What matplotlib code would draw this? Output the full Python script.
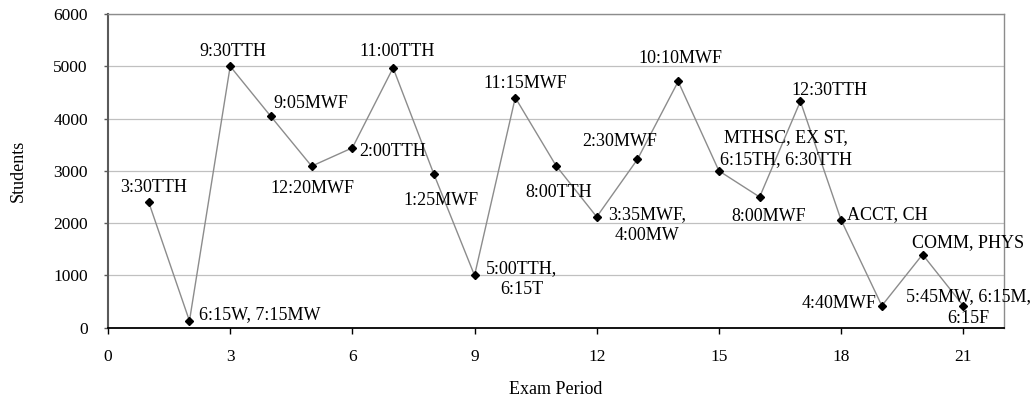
import matplotlib
matplotlib.use("Agg")
import matplotlib.pyplot as plt

# Exam periods and enrolled students per period
periods = list(range(1, 22))
students = [2400, 130, 5000, 4040, 3090, 3440, 4970, 2940, 1000, 4400,
            3100, 2120, 3220, 4710, 3000, 2500, 4330, 2060, 420, 1400, 420]
labels = ["3:30TTH", "6:15W, 7:15MW", "9:30TTH", "9:05MWF", "12:20MWF",
          "2:00TTH", "11:00TTH", "1:25MWF", "5:00TTH,\n6:15T", "11:15MWF",
          "8:00TTH", "3:35MWF,\n4:00MW", "2:30MWF", "10:10MWF",
          "MTHSC, EX ST,\n6:15TH, 6:30TTH", "8:00MWF", "12:30TTH",
          "ACCT, CH", "4:40MWF", "COMM, PHYS", "5:45MW, 6:15M,\n6:15F"]
x_ticks = [0, 3, 6, 9, 12, 15, 18, 21]
y_ticks = [0, 1000, 2000, 3000, 4000, 5000, 6000]

# label placement: (dx px, dy px, horizontal align, vertical align)
placement = [
    (5, 10, "center", "baseline"),
    (10, 1.5, "left", "baseline"),
    (3, 10.7, "center", "baseline"),
    (2, 8, "left", "baseline"),
    (1, -27.3, "center", "baseline"),
    (7, -8, "left", "baseline"),
    (4, 11.7, "center", "baseline"),
    (7, -30.8, "center", "baseline"),
    (47, -3.5, "center", "center"),
    (10, 10, "center", "baseline"),
    (2.5, -31.3, "center", "baseline"),
    (50, -8.3, "center", "center"),
    (-18, 13.3, "center", "baseline"),
    (2, 18, "center", "baseline"),
    (67, 22, "center", "center"),
    (9, -24.4, "center", "baseline"),
    (29, 6.7, "center", "baseline"),
    (5.7, 0.7, "left", "baseline"),
    (-5, -2.6, "right", "baseline"),
    (45.5, 7.4, "center", "baseline"),
    (5.5, -2.1, "center", "center"),
]

plt.rcParams["font.family"] = ["Liberation Serif", "DejaVu Serif"]

fig = plt.figure(figsize=(10.35, 4.0), dpi=100)
ax = fig.add_axes([108 / 1035, 1 - 327.7 / 400, 896 / 1035, 313.7 / 400])

ax.plot(periods, students, color="#8c8c8c", lw=1.0, marker="D",
        markersize=4.5, markerfacecolor="black", markeredgecolor="black",
        zorder=3, clip_on=False)

for xv, yv, txt, (dx, dy, ha, va) in zip(periods, students, labels, placement):
    ax.annotate(txt, (xv, yv), xytext=(dx, dy), textcoords="offset pixels",
                ha=ha, va=va, multialignment="center", fontsize=13,
                linespacing=1.35, annotation_clip=False, zorder=4)

ax.set_xlim(0, 22)
ax.set_ylim(0, 6000)
ax.set_xticks(x_ticks)
ax.set_yticks(y_ticks)

ax.yaxis.grid(True, color="#c0c0c0", lw=0.9)
ax.set_axisbelow(True)

for side in ("top", "right"):
    ax.spines[side].set_color("#8c8c8c")
    ax.spines[side].set_linewidth(1.0)
ax.spines["left"].set_color("#5a5a5a")
ax.spines["left"].set_linewidth(1.5)
ax.spines["bottom"].set_color("black")
ax.spines["bottom"].set_linewidth(1.3)

ax.tick_params(axis="x", direction="out", length=4, width=1, color="black",
               labelsize=12.5, pad=11.5)
ax.tick_params(axis="y", direction="out", length=3, width=1, color="#5a5a5a",
               labelsize=12.5, pad=11.5)

ax.set_xlabel("Exam Period", fontsize=13)
ax.set_ylabel("Students", fontsize=13)
ax.xaxis.set_label_coords(0.5, (327.7 - 390) / 313.7)
ax.xaxis.label.set_va("center")
ax.yaxis.set_label_coords((18 - 108) / 896, 0.5)
ax.yaxis.label.set_va("center")

fig.savefig("out.png", dpi=100)
